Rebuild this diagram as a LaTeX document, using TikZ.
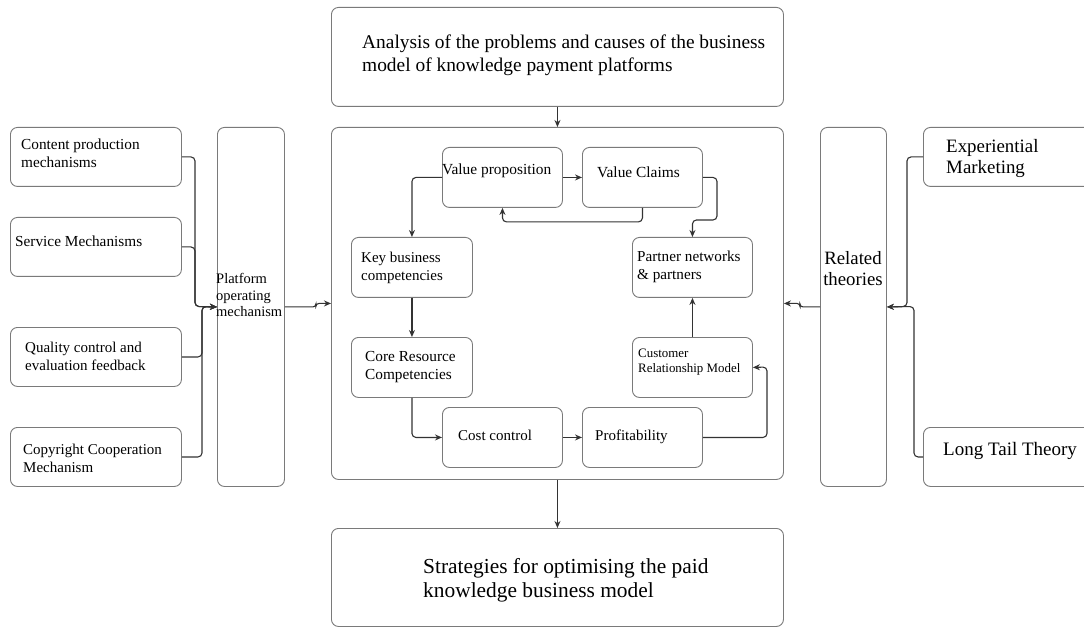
\documentclass[tikz,border=0pt]{standalone}
\usepackage{fontspec}
\setmainfont{Liberation Serif}
\usetikzlibrary{arrows.meta}
\definecolor{boxgray}{HTML}{7A7A7A}
\definecolor{linegray}{HTML}{333333}
\tikzset{
  box/.style={draw=boxgray, line width=0.9pt, rounded corners=7pt, inner sep=0pt, anchor=north west},
  lbl/.style={inner sep=0pt, anchor=west, align=left, text=black},
  conn/.style={draw=linegray, line width=1.1pt, rounded corners=4pt, -{Stealth[length=7pt,width=6pt]}},
  fs/.style 2 args={font=\fontsize{#1}{#2}\selectfont}
}
\begin{document}
\begin{tikzpicture}[x=1pt,y=-1pt]
\useasboundingbox (0,0) rectangle (1084,628);
\clip (0,0) rectangle (1084,628);
% boxes
\node[box, minimum width=452pt, minimum height=99pt] (top) at (331,7) {};
\node[box, minimum width=452pt, minimum height=352pt] (main) at (331,127) {};
\node[box, minimum width=452pt, minimum height=98pt] (bottom) at (331,528) {};
\node[box, minimum width=171pt, minimum height=59pt] (content) at (10,127) {};
\node[box, minimum width=171pt, minimum height=59pt] (service) at (10,217) {};
\node[box, minimum width=171pt, minimum height=59pt] (quality) at (10,327) {};
\node[box, minimum width=171pt, minimum height=59pt] (copyright) at (10,427) {};
\node[box, minimum width=67pt, minimum height=359pt] (platform) at (217,127) {};
\node[box, minimum width=66pt, minimum height=359pt] (related) at (820,127) {};
\node[box, minimum width=180pt, minimum height=59pt] (exp) at (923,127) {};
\node[box, minimum width=180pt, minimum height=59pt] (lt) at (923,427) {};
\node[box, minimum width=120pt, minimum height=60pt] (vp) at (442,147) {};
\node[box, minimum width=120pt, minimum height=60pt] (vc) at (582,147) {};
\node[box, minimum width=121pt, minimum height=60pt] (kb) at (351,237) {};
\node[box, minimum width=120pt, minimum height=60pt] (pn) at (632,237) {};
\node[box, minimum width=121pt, minimum height=60pt] (core) at (351,337) {};
\node[box, minimum width=120pt, minimum height=60pt] (cust) at (632,337) {};
\node[box, minimum width=120pt, minimum height=60pt] (cost) at (442,407) {};
\node[box, minimum width=120pt, minimum height=60pt] (prof) at (582,407) {};
% labels
\node[lbl, fs={19.4}{23}] (topT) at (362,55) {Analysis of the problems and causes of the business\\model of knowledge payment platforms};
\node[lbl, fs={21.4}{24}] (botT) at (423,580) {Strategies for optimising the paid\\knowledge business model};
\node[lbl, fs={15.3}{17.5}] (contentT) at (21,153.5) {Content production\\mechanisms};
\node[lbl, fs={15.3}{17}] (serviceT) at (15,241) {Service Mechanisms};
\node[lbl, fs={15}{18}] (qualityT) at (25,356) {Quality control and\\evaluation feedback};
\node[lbl, fs={15}{17.5}] (copyT) at (23,458.5) {Copyright Cooperation\\Mechanism};
\node[lbl, fs={14.5}{16.5}] (platT) at (216,295) {Platform\\operating\\mechanism};
\node[lbl, fs={18.8}{21}, anchor=center, align=center] (relT) at (853,268.5) {Related\\theories};
\node[lbl, fs={18.9}{21}] (expT) at (946,158.5) {Experiential\\Marketing};
\node[lbl, fs={19}{21}] (ltT) at (943,451) {Long Tail Theory};
\node[lbl, fs={15.4}{17}] (vpT) at (442,171) {Value proposition};
\node[lbl, fs={15.4}{17}] (vcT) at (597,172) {Value Claims};
\node[lbl, fs={15}{18}] (kbT) at (361,268) {Key business\\competencies};
\node[lbl, fs={15.2}{18}] (pnT) at (637,267) {Partner networks\\\& partners};
\node[lbl, fs={15.3}{18}] (coreT) at (365,367) {Core Resource\\Competencies};
\node[lbl, fs={12.9}{14.5}] (custT) at (638,362) {Customer\\Relationship Model};
\node[lbl, fs={15}{17}] (costT) at (458,435) {Cost control};
\node[lbl, fs={15}{17}] (profT) at (595,437) {Profitability};
% junction coordinates
\coordinate (jL) at (195,306.5);
\coordinate (jL2) at (202,306.5);
\coordinate (jR) at (907,306.5);
\coordinate (jR2) at (914,306.5);
% connectors
\draw[conn] (top.south) -- (main.north);
\draw[conn] (main.south) -- (bottom.north);
\draw[conn] (content.east) -| (jL) -- (platform.west);
\draw[conn] (service.east) -| (jL) -- (platform.west);
\draw[conn] (quality.east) -| (jL2) -- (platform.west);
\draw[conn] (copyright.east) -| (jL2) -- (platform.west);
\draw[conn, rounded corners=3pt] (platform.east) -- ++(31,0) |- (main.west);
\draw[conn] (exp.west) -| (jR) -- (related.east);
\draw[conn] (lt.west) -| (jR2) -- (related.east);
\draw[conn, rounded corners=3pt] (related.west) -- ++(-20,0) |- (main.east);
\draw[conn] (vp.east) -- (vc.west);
\draw[conn] (vc.south) -- ++(0,14) -| (vp.south);
\draw[conn] (vp.west) -| (kb.north);
\draw[conn] (vc.east) -| (717,220) -| (pn.north);
\draw[conn] (kb.south) -- (core.north);
\draw[conn] (core.south) |- (cost.west);
\draw[conn] (cost.east) -- (prof.west);
\coordinate (pr) at (767,367);
\draw[conn] (prof.east) -| (pr) -- (cust.east);
\draw[conn] (cust.north) -- (pn.south);
\end{tikzpicture}
\end{document}
